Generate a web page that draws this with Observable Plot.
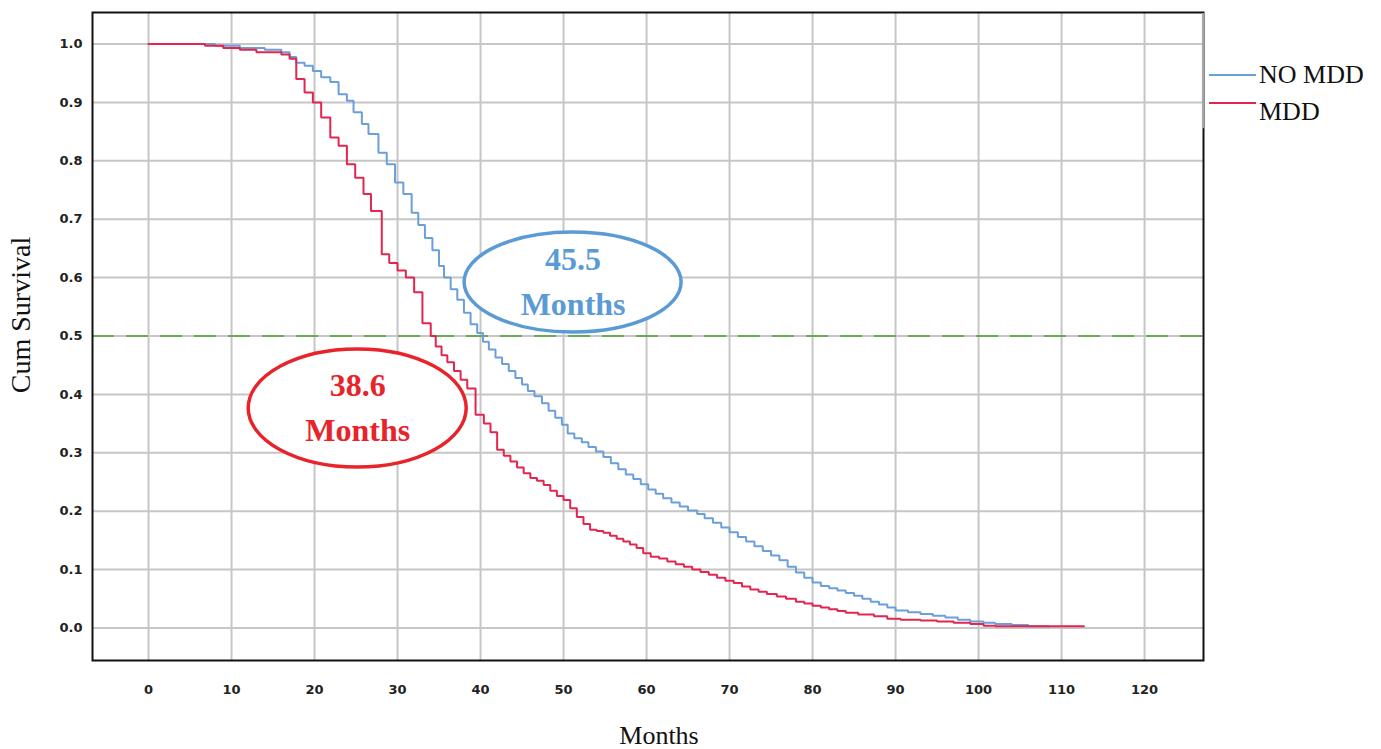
<!DOCTYPE html>
<html>
<head>
<meta charset="utf-8">
<script src="https://cdn.jsdelivr.net/npm/d3@7"></script>
<script src="https://cdn.jsdelivr.net/npm/@observablehq/plot@0.6"></script>
<style>
  html, body { margin: 0; padding: 0; background: #fff; }
  #wrap { position: relative; width: 1381px; height: 749px; overflow: hidden; }
  .lg-line { position: absolute; height: 2px; width: 47px; }
  .lg-text { position: absolute; font-family: "Liberation Serif", "Times New Roman", serif; font-size: 26px; color: #111; line-height: 1; white-space: nowrap; }
</style>
</head>
<body>
<div id="wrap"></div>
<script>
// ---- data ----
const seriesNames = ["NO MDD", "MDD"];
const seriesColors = ["#6a9fda", "#e2264f"];

const noMddTime = [0, 8, 11, 14, 16, 17, 17.8, 18.8, 19.8, 20.8, 21.9, 22.9, 23.9, 24.7, 25.7, 26.5, 27.7, 28.7, 29.7, 30.7, 31.7, 32.5, 33.3, 34.2, 35, 35.6, 36.4, 37.2, 38, 38.8, 39.6, 40.3, 41, 41.8, 42.6, 43.4, 44.2, 45, 45.7, 46.5, 47.4, 48.2, 49, 49.8, 50.5, 51.3, 52.2, 53, 53.9, 54.8, 55.7, 56.6, 57.5, 58.4, 59.3, 60.2, 61.1, 62, 63, 64, 65, 66.1, 67, 68, 69, 70, 71, 72, 73, 74, 75, 76, 77, 78, 79, 80, 81, 82, 83, 84, 85, 86, 87, 88, 89, 90, 91.5, 93, 94.5, 96, 97.5, 99, 100.6, 102, 104, 106, 108.4];
const noMddSurv = [1.0, 0.997, 0.993, 0.99, 0.986, 0.978, 0.968, 0.963, 0.954, 0.943, 0.935, 0.914, 0.903, 0.883, 0.863, 0.846, 0.814, 0.794, 0.763, 0.743, 0.711, 0.69, 0.668, 0.647, 0.62, 0.60, 0.58, 0.562, 0.54, 0.52, 0.505, 0.49, 0.477, 0.463, 0.452, 0.44, 0.428, 0.417, 0.406, 0.397, 0.385, 0.372, 0.36, 0.348, 0.333, 0.325, 0.318, 0.31, 0.302, 0.293, 0.282, 0.272, 0.263, 0.255, 0.246, 0.237, 0.23, 0.222, 0.215, 0.208, 0.201, 0.195, 0.188, 0.18, 0.172, 0.164, 0.156, 0.148, 0.14, 0.132, 0.124, 0.116, 0.105, 0.095, 0.086, 0.078, 0.072, 0.068, 0.064, 0.06, 0.055, 0.05, 0.045, 0.04, 0.035, 0.03, 0.027, 0.024, 0.021, 0.018, 0.014, 0.011, 0.009, 0.007, 0.005, 0.003, 0.002];

const mddTime = [0, 6.8, 9, 11, 13, 16, 17, 17.8, 18.8, 19.8, 20.8, 21.9, 22.9, 23.9, 24.9, 25.9, 26.8, 28.1, 29, 30, 31, 32, 33, 34, 34.6, 35.3, 36, 36.8, 37.6, 38.4, 39.4, 40.4, 41.2, 42, 42.8, 43.6, 44.4, 45.2, 46, 46.8, 47.6, 48.4, 49.2, 50, 50.8, 51.6, 52.4, 53.2, 54, 54.8, 55.6, 56.4, 57.2, 58, 58.8, 59.6, 60.5, 61.5, 62.5, 63.5, 64.5, 65.5, 66.5, 67.5, 68.5, 69.5, 70.5, 71.5, 72.5, 73.5, 74.5, 75.7, 76.8, 78, 79, 80, 81, 82, 83, 84, 85.5, 87.4, 89, 90.6, 93, 95, 97, 99, 100.6, 102, 112.7];
const mddSurv = [1.0, 0.997, 0.993, 0.99, 0.986, 0.982, 0.975, 0.94, 0.917, 0.90, 0.874, 0.84, 0.826, 0.794, 0.771, 0.743, 0.714, 0.64, 0.625, 0.612, 0.60, 0.575, 0.522, 0.50, 0.482, 0.467, 0.455, 0.44, 0.425, 0.41, 0.365, 0.35, 0.335, 0.305, 0.295, 0.285, 0.275, 0.265, 0.257, 0.252, 0.245, 0.235, 0.226, 0.219, 0.205, 0.19, 0.178, 0.168, 0.166, 0.163, 0.158, 0.153, 0.148, 0.143, 0.137, 0.128, 0.122, 0.119, 0.114, 0.109, 0.105, 0.1, 0.096, 0.091, 0.086, 0.081, 0.077, 0.071, 0.066, 0.062, 0.058, 0.054, 0.05, 0.045, 0.042, 0.038, 0.035, 0.032, 0.029, 0.026, 0.023, 0.02, 0.016, 0.014, 0.013, 0.011, 0.009, 0.007, 0.004, 0.003, 0.003];

const xTicks = [0, 10, 20, 30, 40, 50, 60, 70, 80, 90, 100, 110, 120];
const yTicks = [0, 0.1, 0.2, 0.3, 0.4, 0.5, 0.6, 0.7, 0.8, 0.9, 1.0];
const medianLine = [0.5];

// annotations: two label lines and anchor point (in data units)
const annoValue = ["45.5", "38.6"];
const annoUnit = ["Months", "Months"];
const annoX = [51.15, 25.2];
const annoY = [0.5916, 0.3759];
const annoColors = ["#5b9bd5", "#e8232a"];

// ---- build rows ----
const rows = [];
noMddTime.forEach((t, i) => rows.push({t, s: noMddSurv[i], g: seriesNames[0]}));
mddTime.forEach((t, i) => rows.push({t, s: mddSurv[i], g: seriesNames[1]}));
const annoRows = annoX.map((x, i) => ({x, y: annoY[i], v: annoValue[i], u: annoUnit[i], c: annoColors[i]}));

const serif = '"Liberation Serif", "Times New Roman", serif';

const plot = Plot.plot({
  width: 1381,
  height: 749,
  marginLeft: 92,
  marginRight: 178,
  marginTop: 12,
  marginBottom: 89,
  style: {background: "#fff", fontFamily: '"DejaVu Sans", Verdana, sans-serif', overflow: "visible"},
  x: {domain: [-6.75, 127.1], ticks: xTicks, label: null},
  y: {domain: [-0.0557, 1.054], ticks: yTicks, label: null},
  color: {domain: seriesNames, range: seriesColors},
  marks: [
    Plot.gridX(xTicks, {stroke: "#c6c6c6", strokeOpacity: 1, strokeWidth: 2}),
    Plot.gridY(yTicks, {stroke: "#c6c6c6", strokeOpacity: 1, strokeWidth: 2}),
    Plot.ruleY(medianLine, {stroke: "#6aaa55", strokeWidth: 2.2, strokeDasharray: "22,12"}),
    Plot.line(rows, {x: "t", y: "s", z: "g", stroke: "g", curve: "step-after", strokeWidth: 2, strokeLinejoin: "miter"}),
    Plot.frame({stroke: "#111", strokeWidth: 2}),
    Plot.axisX(xTicks, {tickSize: 0, tickPadding: 24, fontSize: 13, fill: "#222", fontWeight: "bold", label: null}),
    Plot.axisY(yTicks, {tickSize: 0, tickPadding: 10, fontSize: 13, fill: "#222", fontWeight: "bold", tickFormat: d3.format(".1f"), label: null}),
    Plot.text(annoRows, {x: "x", y: "y", text: "v", dy: -23, fill: "c", fontSize: 32, fontWeight: "bold", fontFamily: serif}),
    Plot.text(annoRows, {x: "x", y: "y", text: "u", dy: 22, fill: "c", fontSize: 32, fontWeight: "bold", fontFamily: serif})
  ]
});

// ellipses around annotations, positioned through the plot's scales, placed under the curves
const ns = "http://www.w3.org/2000/svg";
const sx = plot.scale("x"), sy = plot.scale("y");
const ellipseR = [[108.5, 50], [109, 59]];
const eg = document.createElementNS(ns, "g");
annoX.forEach((x, i) => {
  const e = document.createElementNS(ns, "ellipse");
  e.setAttribute("cx", sx.apply(x));
  e.setAttribute("cy", sy.apply(annoY[i]));
  e.setAttribute("rx", ellipseR[i][0]);
  e.setAttribute("ry", ellipseR[i][1]);
  e.setAttribute("fill", "#fff");
  e.setAttribute("stroke", annoColors[i]);
  e.setAttribute("stroke-width", 3.5);
  eg.appendChild(e);
});
const lineG = plot.querySelector('g[aria-label="line"]');
plot.insertBefore(eg, lineG);

// gray top part of right border (as in reference)
const xr = sx.apply(sx.domain[1]);
const grayEdge = document.createElementNS(ns, "line");
grayEdge.setAttribute("x1", xr); grayEdge.setAttribute("x2", xr);
grayEdge.setAttribute("y1", sy.apply(1.054) + 1); grayEdge.setAttribute("y2", sy.apply(0.855));
grayEdge.setAttribute("stroke", "#a8a8a8"); grayEdge.setAttribute("stroke-width", 2.2);
plot.appendChild(grayEdge);

// axis titles
const yt = document.createElementNS(ns, "text");
yt.setAttribute("transform", "translate(30,315) rotate(-90)");
yt.setAttribute("text-anchor", "middle");
yt.setAttribute("font-family", serif);
yt.setAttribute("font-size", 28);
yt.setAttribute("fill", "#111");
yt.textContent = "Cum Survival";
plot.appendChild(yt);
const xt = document.createElementNS(ns, "text");
xt.setAttribute("x", 659);
xt.setAttribute("y", 744);
xt.setAttribute("text-anchor", "middle");
xt.setAttribute("font-family", serif);
xt.setAttribute("font-size", 26);
xt.setAttribute("fill", "#111");
xt.textContent = "Months";
plot.appendChild(xt);

const wrap = document.getElementById("wrap");
wrap.appendChild(plot);

// legend (HTML, in the right margin)
const legendPos = [{line: 75, text: 75}, {line: 103, text: 112}];
seriesNames.forEach((name, i) => {
  const l = document.createElement("div");
  l.className = "lg-line";
  l.style.left = "1209px";
  l.style.top = (legendPos[i].line - 1) + "px";
  l.style.background = seriesColors[i];
  wrap.appendChild(l);
  const t = document.createElement("div");
  t.className = "lg-text";
  t.style.left = "1259px";
  t.style.top = (legendPos[i].text - 13) + "px";
  t.textContent = name;
  wrap.appendChild(t);
});
</script>
</body>
</html>
